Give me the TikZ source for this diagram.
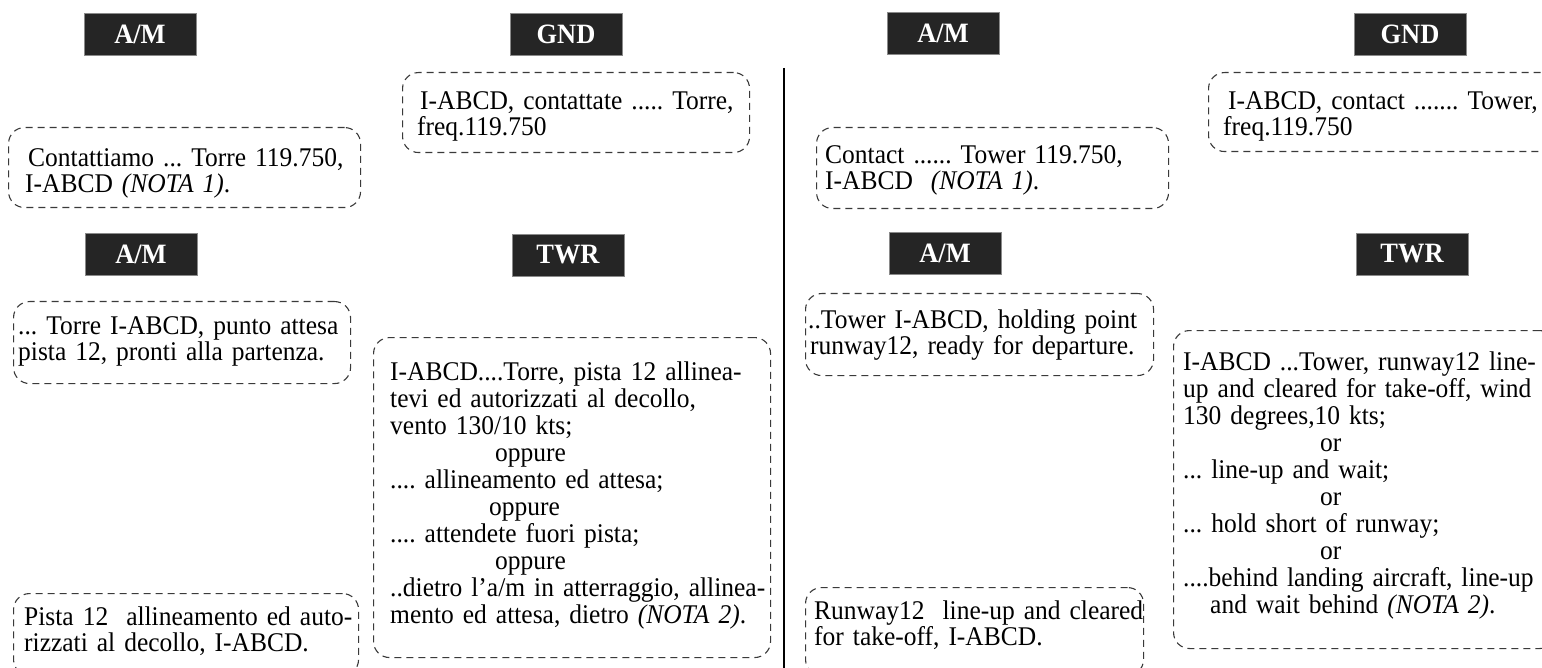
\documentclass[tikz,border=0pt]{standalone}
\usepackage{fontspec}
\setmainfont{Liberation Serif}[FakeStretch=0.944]
\definecolor{hdrfill}{HTML}{252525}
\definecolor{hdrline}{HTML}{8A8A8A}
\definecolor{boxline}{HTML}{3A3A3A}
\tikzset{
  hdr/.style={fill=hdrfill, draw=hdrline, line width=0.8pt, minimum width=112pt,
    minimum height=42pt, inner sep=0pt, text=white,
    font=\bfseries\fontsize{28}{28}\selectfont},
  dbox/.style={draw=boxline, line width=1.1pt, dash pattern=on 7pt off 5pt,
    rounded corners=16pt, inner sep=0pt, anchor=north west},
  txt/.style={anchor=base west, inner sep=0pt, align=left, text width=420pt,
    font=\fontsize{27}{26}\selectfont\frenchspacing},
  bigtxt/.style={txt, font=\fontsize{27}{27}\selectfont\frenchspacing},
  divider/.style={draw=black, line width=2pt}
}
\begin{document}
\begin{tikzpicture}[x=1pt,y=-1pt]
\useasboundingbox (0,0) rectangle (1542,668);
\clip (0,0) rectangle (1542,668);
\fill[white] (0,0) rectangle (1542,668);

% headers
\node[hdr] (h1) at (140,34) {A/M};
\node[hdr] (h2) at (566,34) {GND};
\node[hdr] (h3) at (943,33) {A/M};
\node[hdr] (h4) at (1410,34) {GND};
\node[hdr] (h5) at (141,254) {A/M};
\node[hdr] (h6) at (568,255) {TWR};
\node[hdr] (h7) at (945,253) {A/M};
\node[hdr] (h8) at (1412,254) {TWR};

% divider
\coordinate (dtop) at (784,68);
\coordinate (dbot) at (784,670);
\draw[divider] (dtop) -- (dbot);

% dashed boxes
\node[dbox, minimum width=352pt, minimum height=80pt] (b1) at (8,127) {};
\node[dbox, minimum width=347pt, minimum height=80pt] (b2) at (402,72) {};
\node[dbox, minimum width=352pt, minimum height=81pt] (b3) at (816,127) {};
\node[dbox, minimum width=348pt, minimum height=79pt] (b4) at (1208,72) {};
\node[dbox, minimum width=337pt, minimum height=82pt] (b5) at (13,301) {};
\node[dbox, minimum width=345pt, minimum height=82pt] (b6) at (13,593) {};
\node[dbox, minimum width=397pt, minimum height=320pt] (b7) at (373,337) {};
\node[dbox, minimum width=348pt, minimum height=82pt] (b8) at (805,293) {};
\node[dbox, minimum width=338pt, minimum height=88pt] (b9) at (805,587) {};
\node[dbox, minimum width=382pt, minimum height=318pt] (b10) at (1173,330) {};

% texts
\node[txt] (t1) at (25,166.5) {\hspace*{3pt}Contattiamo ... Torre 119.750,\\I-ABCD \textit{(NOTA 1)}.};
\node[txt] (t2) at (417,109.5) {\hspace*{3pt}I-ABCD, contattate ..... Torre,\\freq.119.750};
\node[txt] (t3) at (825,163.5) {Contact ...... Tower 119.750,\\I-ABCD~~\textit{(NOTA 1)}.};
\node[txt] (t4) at (1223,109.5) {\hspace*{5pt}I-ABCD, contact ....... Tower,\\freq.119.750};
\node[txt] (t5) at (18,334.5) {... Torre I-ABCD, punto attesa\\pista 12, pronti alla partenza.};
\node[txt] (t6) at (24,625.5) {Pista 12~~allineamento ed auto-\\rizzati al decollo, I-ABCD.};
\node[bigtxt] (t7) at (390,380.5) {I-ABCD....Torre, pista 12 allinea-\\tevi ed autorizzati al decollo,\\vento 130/10 kts;\\\hspace*{105pt}oppure\\.... allineamento ed attesa;\\\hspace*{99pt}oppure\\.... attendete fuori pista;\\\hspace*{105pt}oppure\\..dietro l’a/m in atterraggio, allinea-\\mento ed attesa, dietro \textit{(NOTA 2)}.};
\node[txt] (t8) at (808,328.5) {..Tower I-ABCD, holding point\\\hspace*{2pt}runway12, ready for departure.};
\node[txt] (t9) at (814,619.5) {Runway12~~line-up and cleared\\for take-off, I-ABCD.};
\node[bigtxt] (t10) at (1183,370.5) {I-ABCD ...Tower, runway12 line-\\up and cleared for take-off, wind\\130 degrees,10 kts;\\\hspace*{137pt}or\\... line-up and wait;\\\hspace*{137pt}or\\... hold short of runway;\\\hspace*{137pt}or\\....behind landing aircraft, line-up\\\hspace*{27pt}and wait behind \textit{(NOTA 2)}.};
\end{tikzpicture}
\end{document}
